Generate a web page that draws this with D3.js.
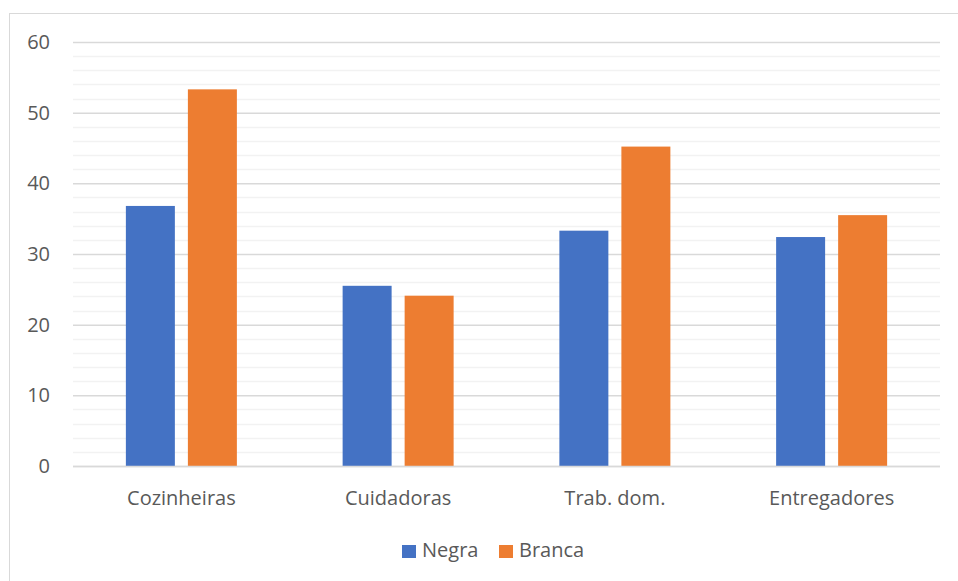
<!DOCTYPE html>
<html>
<head>
<meta charset="utf-8">
<script src="https://cdn.jsdelivr.net/npm/d3@7"></script>
<style>
  body { margin: 0; background: #fff; }
  text { font-family: "Open Sans", "Liberation Sans", sans-serif; fill: #595959; }
</style>
</head>
<body>
<svg id="chart" width="958" height="581"></svg>
<script>
const categories = ['Cozinheiras', 'Cuidadoras', 'Trab. dom.', 'Entregadores']
const seriesNames = ['Negra', 'Branca']
const negra = [36.8, 25.5, 33.3, 32.4]
const branca = [53.3, 24.1, 45.2, 35.5]
const yTicks = [0, 10, 20, 30, 40, 50, 60]
const yMinorTicks = d3.range(0, 61, 2)

const blue = '#4472c4', orange = '#ed7d31'
const colors = [blue, orange]
const values = [negra, branca]

const svg = d3.select('#chart')

// chart area border (runs off the right/bottom edge in the reference)
svg.append('rect')
    .attr('x', 9.5).attr('y', 13.5)
    .attr('width', 1000).attr('height', 600)
    .attr('fill', 'none')
    .attr('stroke', '#d9d9d9')

const plotL = 73, plotR = 940, plotT = 42, plotB = 466

const xScale = d3.scaleBand().domain(categories).range([plotL, plotR])
const yScale = d3.scaleLinear().domain([0, 60]).range([plotB, plotT])
const groupW = 111
const x1 = d3.scaleBand().domain(seriesNames).range([0, groupW]).paddingInner(0.21)

// minor gridlines
svg.append('g').selectAll('line.minor')
    .data(yMinorTicks.filter(v => v % 10 !== 0))
    .enter().append('line')
    .attr('class', 'minor')
    .attr('x1', plotL).attr('x2', plotR)
    .attr('y1', d => Math.round(yScale(d)) + 0.5)
    .attr('y2', d => Math.round(yScale(d)) + 0.5)
    .attr('stroke', '#f2f2f2')
    .attr('stroke-width', 1.5)

// major gridlines + labels via axis
const yAxis = d3.axisLeft(yScale)
    .tickValues(yTicks)
    .tickSize(-(plotR - plotL))
    .tickPadding(23)
const yAxisG = svg.append('g')
    .attr('transform', `translate(${plotL},0)`)
    .call(yAxis)
yAxisG.select('.domain').remove()
yAxisG.selectAll('.tick line')
    .attr('stroke', '#d9d9d9')
    .attr('stroke-width', 1.5)
yAxisG.selectAll('.tick text')
    .attr('font-size', 20)
    .style('font-family', '"Open Sans", sans-serif')
    .attr('fill', '#595959')

// bars
seriesNames.forEach((s, si) => {
    svg.append('g').selectAll('rect.' + s)
        .data(categories)
        .enter().append('rect')
        .attr('class', s)
        .attr('x', d => xScale(d) + (xScale.bandwidth() - groupW) / 2 + x1(s))
        .attr('width', x1.bandwidth())
        .attr('y', (d, i) => yScale(values[si][i]))
        .attr('height', (d, i) => plotB - yScale(values[si][i]))
        .attr('fill', colors[si])
})

// x axis line on top of bars
svg.append('line')
    .attr('x1', plotL).attr('x2', plotR)
    .attr('y1', plotB + 0.5).attr('y2', plotB + 0.5)
    .attr('stroke', '#d9d9d9')
    .attr('stroke-width', 1.5)

// category labels
const xAxis = d3.axisBottom(xScale).tickSize(0).tickPadding(25)
const xAxisG = svg.append('g')
    .attr('transform', `translate(0,${plotB})`)
    .call(xAxis)
xAxisG.select('.domain').remove()
xAxisG.selectAll('.tick text')
    .attr('font-size', 20)
    .style('font-family', '"Open Sans", sans-serif')
    .attr('fill', '#595959')

// legend
const legendItems = [{ name: 'Negra', x: 402 }, { name: 'Branca', x: 499 }]
const legend = svg.append('g')
legendItems.forEach((item, i) => {
    legend.append('rect')
        .attr('x', item.x).attr('y', 545)
        .attr('width', 14).attr('height', 13)
        .attr('fill', colors[i])
    legend.append('text')
        .attr('x', item.x + 20).attr('y', 557)
        .attr('font-size', 20)
        .text(item.name)
})
</script>
</body>
</html>
